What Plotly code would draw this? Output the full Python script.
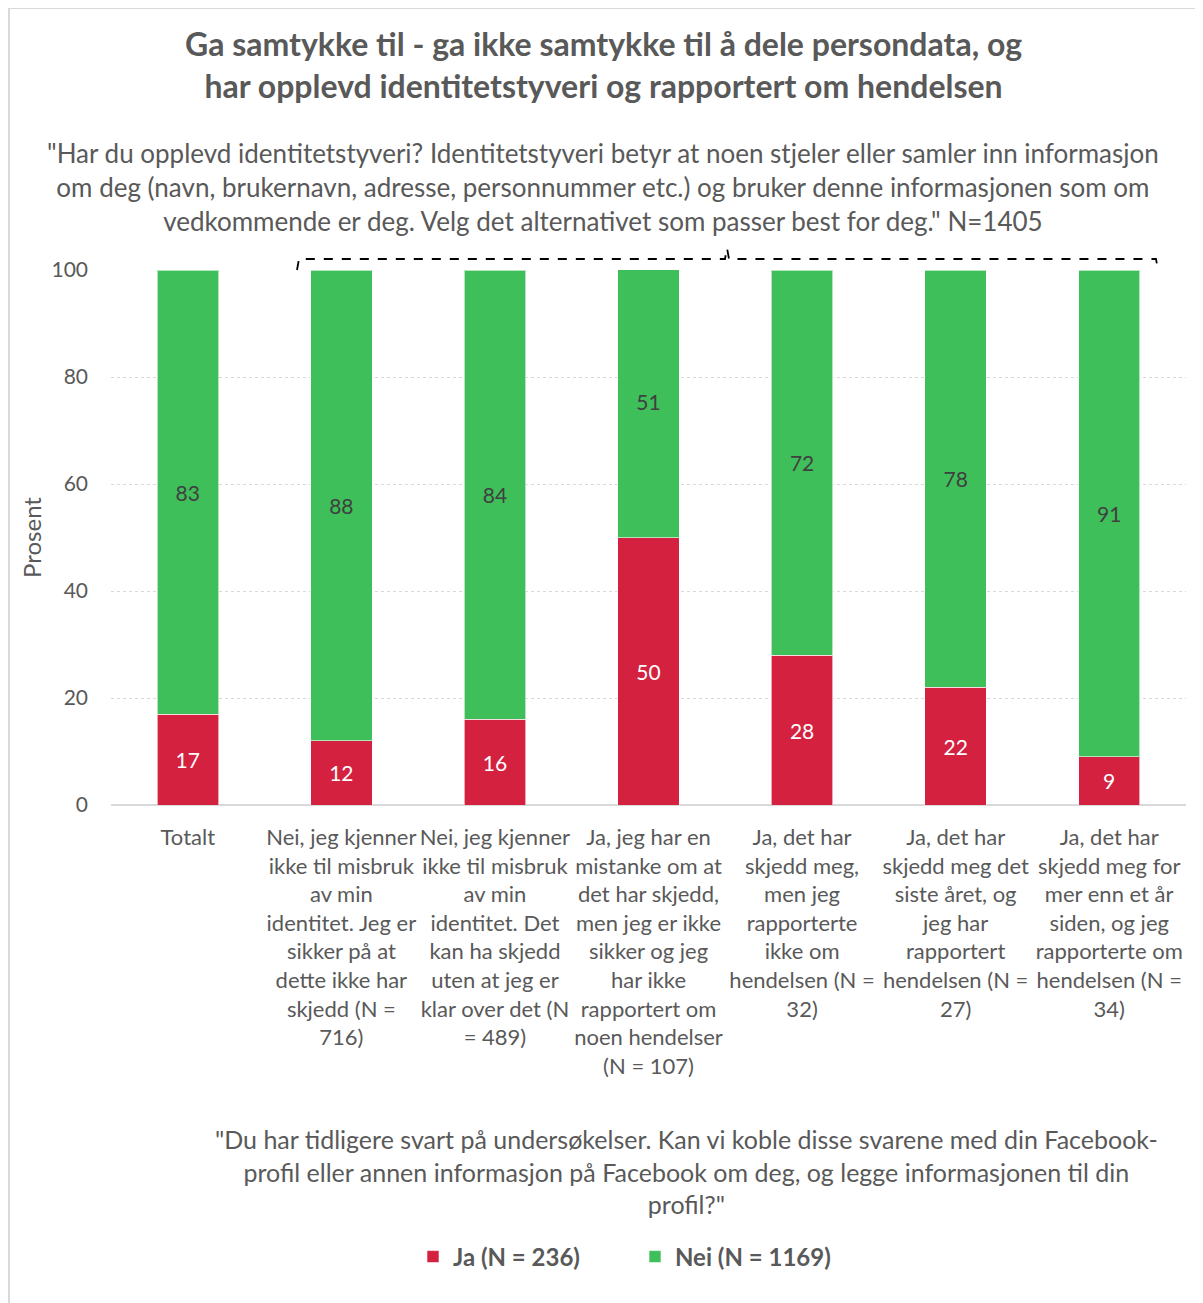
import plotly.graph_objects as go

categories = [
    "Totalt",
    "Nei, jeg kjenner<br>ikke til misbruk<br>av min<br>identitet. Jeg er<br>sikker på at<br>dette ikke har<br>skjedd (N =<br>716)",
    "Nei, jeg kjenner<br>ikke til misbruk<br>av min<br>identitet. Det<br>kan ha skjedd<br>uten at jeg er<br>klar over det (N<br>= 489)",
    "Ja, jeg har en<br>mistanke om at<br>det har skjedd,<br>men jeg er ikke<br>sikker og jeg<br>har ikke<br>rapportert om<br>noen hendelser<br>(N = 107)",
    "Ja, det har<br>skjedd meg,<br>men jeg<br>rapporterte<br>ikke om<br>hendelsen (N =<br>32)",
    "Ja, det har<br>skjedd meg det<br>siste året, og<br>jeg har<br>rapportert<br>hendelsen (N =<br>27)",
    "Ja, det har<br>skjedd meg for<br>mer enn et år<br>siden, og jeg<br>rapporterte om<br>hendelsen (N =<br>34)",
]
ja_values = [17, 12, 16, 50, 28, 22, 9]
nei_values = [83, 88, 84, 51, 72, 78, 91]
series_names = ["Ja (N = 236)", "Nei (N = 1169)"]
y_ticks = [0, 20, 40, 60, 80, 100]

title_text = "<b>Ga samtykke til - ga ikke samtykke til å dele persondata, og<br>har opplevd identitetstyveri og rapportert om hendelsen</b>"
subtitle_text = ("\"Har du opplevd identitetstyveri? Identitetstyveri betyr at noen stjeler eller samler inn informasjon<br>"
                 "om deg (navn, brukernavn, adresse, personnummer etc.) og bruker denne informasjonen som om<br>"
                 "vedkommende er deg. Velg det alternativet som passer best for deg.\" N=1405")
legend_title_text = ("\"Du har tidligere svart på undersøkelser. Kan vi koble disse svarene med din Facebook-<br>"
                     "profil eller annen informasjon på Facebook om deg, og legge informasjonen til din<br>"
                     "profil?\"")

RED = "#D42140"
GREEN = "#3FBF5A"
TXT = "#595959"
FONT = "Lato"

OX, OY = 8, 8  # page offset of the figure (body margin)
W, H = 1195, 1295
L, R, T, B = 103, 17, 262, 498
PW = W - L - R
PH = H - T - B


def px(xp):
    return (xp - OX - L) / PW


def py(yp):
    return (H - B - (yp - OY)) / PH


fig = go.Figure()
fig.add_trace(go.Bar(
    x=categories, y=ja_values, name=series_names[0],
    marker=dict(color=RED, line=dict(color="rgba(255,255,255,0.6)", width=1)),
    text=ja_values, textposition="inside", insidetextanchor="middle",
    textangle=0, textfont=dict(color="white", size=21, family=FONT),
    hoverinfo="skip",
))
fig.add_trace(go.Bar(
    x=categories, y=nei_values, name=series_names[1],
    marker=dict(color=GREEN, line=dict(color="rgba(255,255,255,0.6)", width=1)),
    text=nei_values, textposition="inside", insidetextanchor="middle",
    textangle=0, textfont=dict(color="#404040", size=21, family=FONT),
    hoverinfo="skip",
))

# dashed bracket above the plot
bx0, bx1, bmid = 297, 1158, 727
bytop, ybot, ymidtop = 259, 270, 248
path = (f"M {px(bx0)} {py(ybot)} L {px(bx0 + 2)} {py(bytop)} L {px(bmid - 2)} {py(bytop)} "
        f"L {px(bmid)} {py(ymidtop)} L {px(bmid + 2)} {py(bytop)} L {px(bx1 - 2)} {py(bytop)} "
        f"L {px(bx1)} {py(ybot)}")

shapes = [
    dict(type="path", xref="paper", yref="paper", path=path,
         line=dict(color="black", width=1.8, dash="dash")),
    dict(type="rect", xref="paper", yref="paper",
         x0=px(9), x1=px(1210), y0=py(1310), y1=py(8),
         line=dict(color="#D9D9D9", width=2), fillcolor="rgba(0,0,0,0)", layer="below"),
]

annotations = [
    dict(text=title_text, xref="paper", yref="paper", x=px(603), y=py(64),
         xanchor="center", yanchor="middle", showarrow=False,
         font=dict(size=32, color=TXT, family=FONT)),
    dict(text=subtitle_text, xref="paper", yref="paper", x=px(603), y=py(187),
         xanchor="center", yanchor="middle", showarrow=False,
         font=dict(size=26, color=TXT, family=FONT)),
    dict(text=legend_title_text, xref="paper", yref="paper", x=px(686), y=py(1171),
         xanchor="center", yanchor="middle", showarrow=False,
         font=dict(size=25, color=TXT, family=FONT)),
]

fig.update_layout(
    width=W, height=H,
    margin=dict(l=L, r=R, t=T, b=B, autoexpand=False),
    barmode="stack", bargap=0.6,
    plot_bgcolor="white", paper_bgcolor="white",
    font=dict(family=FONT, color=TXT, size=22),
    showlegend=True,
    legend=dict(orientation="h", x=px(635), y=py(1257), xanchor="center", yanchor="middle",
                font=dict(size=24, color=TXT, family=FONT, weight="bold"),
                traceorder="normal", itemwidth=30, entrywidth=177),
    shapes=shapes,
    annotations=annotations,
    xaxis=dict(showgrid=False, showline=False, ticks="", tickangle=0,
               tickfont=dict(size=22, color=TXT, family=FONT), automargin=False,
               ticklabelstandoff=17),
    yaxis=dict(range=[0, 100], tickvals=y_ticks, showgrid=True, gridcolor="#D9D9D9",
               griddash="dot", gridwidth=1, zeroline=True, zerolinecolor="#D9D9D9",
               zerolinewidth=2, showline=False, ticks="",
               tickfont=dict(size=21, color=TXT, family=FONT), ticklabelstandoff=22,
               title=dict(text="Prosent", font=dict(size=24, color=TXT, family=FONT), standoff=3),
               automargin=False),
)

fig.write_html("out.html")
